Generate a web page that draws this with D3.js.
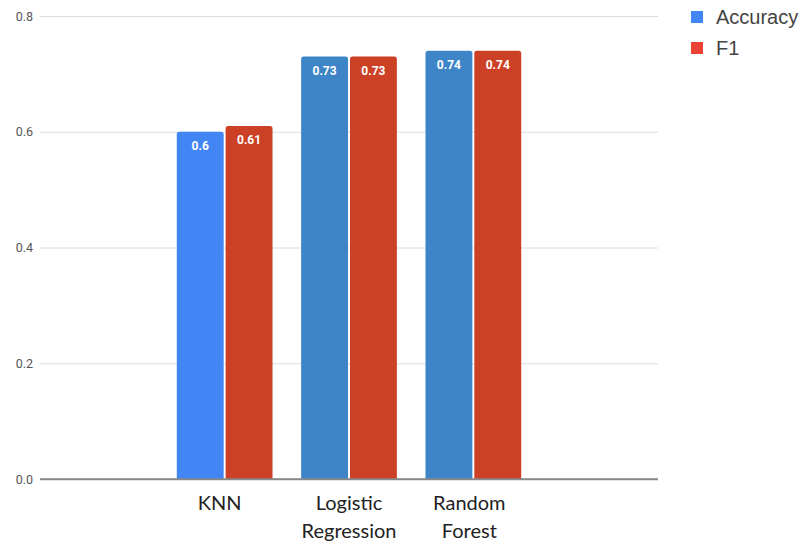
<!DOCTYPE html>
<html>
<head>
<meta charset="utf-8">
<script src="https://cdn.jsdelivr.net/npm/d3@7"></script>
<style>
  html, body { margin: 0; padding: 0; background: #fff; }
  svg { display: block; }
</style>
</head>
<body>
<svg id="chart" width="803" height="544"></svg>
<script>
// Model comparison data
const models = ["KNN", "Logistic Regression", "Random Forest"];
const seriesNames = ["Accuracy", "F1"];
const accuracy = [0.6, 0.73, 0.74];
const f1 = [0.61, 0.73, 0.74];
const yTicks = [0, 0.2, 0.4, 0.6, 0.8];

const W = 803, H = 544;
const margin = { left: 40, right: 145, top: 16, bottom: 65 };
const svg = d3.select("#chart");

const x = d3.scaleBand()
  .domain(models)
  .range([margin.left, W - margin.right])
  .paddingInner(0.23)
  .paddingOuter(1.1);

const sub = d3.scaleBand()
  .domain(seriesNames)
  .range([0, x.bandwidth()])
  .paddingInner(0.04);

const y = d3.scaleLinear()
  .domain([0, 0.8])
  .range([H - margin.bottom, margin.top]);

const accColor = d => d === "KNN" ? "#4285f4" : "#3d85c6";
const f1Color = "#cc4125";

// Gridlines and y labels
const yAxis = d3.axisLeft(y)
  .tickValues(yTicks)
  .tickFormat(d3.format(".1f"))
  .tickSize(-(W - margin.left - margin.right))
  .tickPadding(7);

const gy = svg.append("g")
  .attr("transform", `translate(${margin.left},0)`)
  .call(yAxis);
gy.select(".domain").remove();
gy.selectAll(".tick line")
  .attr("stroke", d => d === 0 ? "#888" : "#dcdcdc")
  .attr("stroke-width", d => d === 0 ? 1.5 : 1);
gy.selectAll(".tick text")
  .attr("fill", "#555")
  .attr("font-family", "Roboto, Arial, sans-serif")
  .attr("font-size", 12.5);

// Bars with slightly rounded top corners
function barPath(x0, w, yTop, yBot, r) {
  return `M${x0},${yBot} V${yTop + r} Q${x0},${yTop} ${x0 + r},${yTop} H${x0 + w - r} Q${x0 + w},${yTop} ${x0 + w},${yTop + r} V${yBot} Z`;
}

const rows = models.map((m, i) => ({ model: m, Accuracy: accuracy[i], F1: f1[i] }));

const groups = svg.append("g").selectAll("g")
  .data(rows)
  .join("g")
  .attr("transform", d => `translate(${x(d.model)},0)`);

const bars = groups.selectAll("g")
  .data(d => seriesNames.map(s => ({ model: d.model, series: s, value: d[s] })))
  .join("g");

bars.append("path")
  .attr("d", d => barPath(sub(d.series), sub.bandwidth(), y(d.value), y(0), 2.5))
  .attr("fill", d => d.series === "Accuracy" ? accColor(d.model) : f1Color);

bars.append("text")
  .attr("x", d => sub(d.series) + sub.bandwidth() / 2)
  .attr("y", d => y(d.value) + 18)
  .attr("text-anchor", "middle")
  .attr("fill", "#fff")
  .attr("font-family", "Roboto, Arial, sans-serif")
  .attr("font-weight", "bold")
  .attr("font-size", 12)
  .text(d => String(d.value));

// Redraw the zero baseline over bars
svg.append("line")
  .attr("x1", margin.left).attr("x2", W - margin.right)
  .attr("y1", y(0)).attr("y2", y(0))
  .attr("stroke", "#888").attr("stroke-width", 1.5);

// Category labels (wrapped)
const catLines = {
  "KNN": ["KNN"],
  "Logistic Regression": ["Logistic", "Regression"],
  "Random Forest": ["Random", "Forest"]
};
const cat = svg.append("g").selectAll("text")
  .data(models)
  .join("text")
  .attr("text-anchor", "middle")
  .attr("fill", "#222")
  .attr("font-family", "Lato, 'Open Sans', sans-serif")
  .attr("font-size", 20);
cat.each(function (m) {
  const t = d3.select(this);
  catLines[m].forEach((line, i) => {
    t.append("tspan")
      .attr("x", x(m) + x.bandwidth() / 2 - (m === "KNN" ? 5 : (m === "Random Forest" ? 4 : 0)))
      .attr("y", 510 + i * 28)
      .text(line);
  });
});

// Legend
const legendColors = ["#4285f4", "#ea4335"];
const legend = svg.append("g").selectAll("g")
  .data(seriesNames)
  .join("g")
  .attr("transform", (d, i) => `translate(691,${11 + i * 31})`);
legend.append("rect")
  .attr("width", 12).attr("height", 12)
  .attr("fill", (d, i) => legendColors[i]);
legend.append("text")
  .attr("x", 25).attr("y", 13)
  .attr("fill", "#444")
  .attr("font-family", "Arial, 'Liberation Sans', sans-serif")
  .attr("font-size", 20)
  .text(d => d);
</script>
</body>
</html>
